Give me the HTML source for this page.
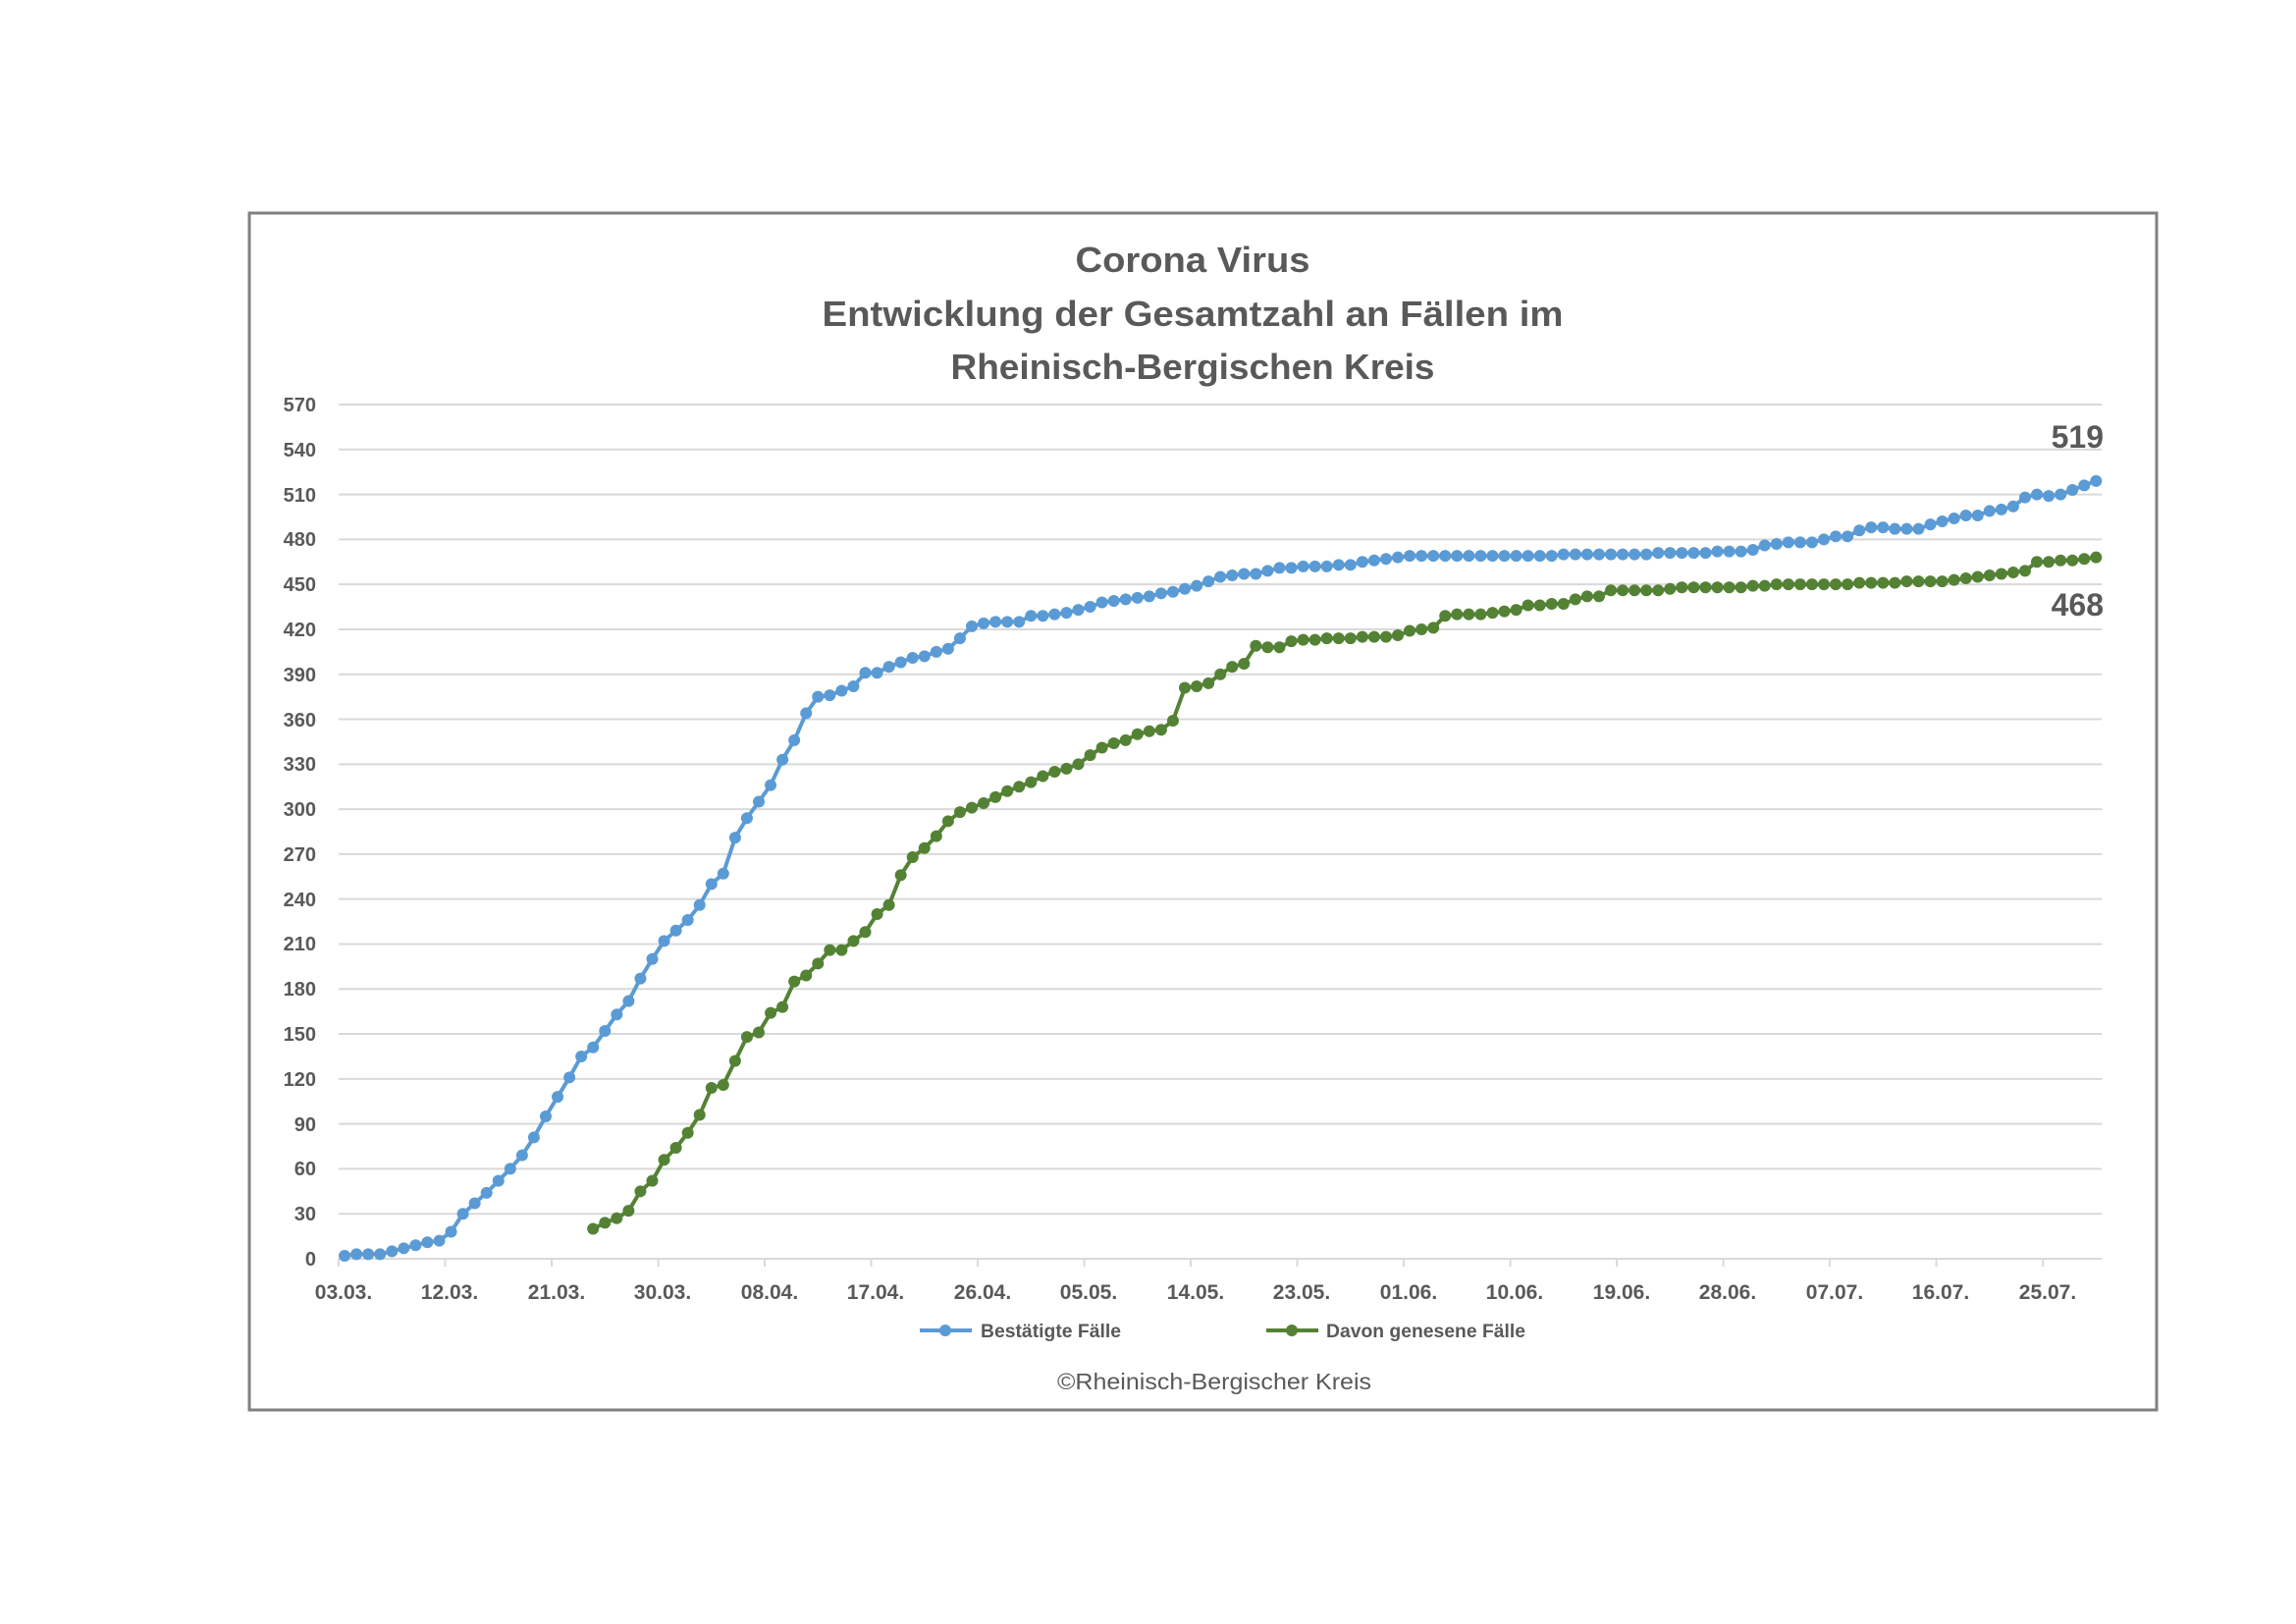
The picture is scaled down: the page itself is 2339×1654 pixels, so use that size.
<!DOCTYPE html>
<html><head><meta charset="utf-8"><style>
html,body{margin:0;padding:0;background:#fff;}
svg{display:block;}
text{font-family:"Liberation Sans",sans-serif;fill:#595959;}
</style></head><body>
<svg id="s" width="2339" height="1654" viewBox="0 0 2339 1654" xmlns="http://www.w3.org/2000/svg">
<rect x="0" y="0" width="2339" height="1654" fill="#fff"/>
<rect x="254" y="217" width="1943" height="1219" fill="none" stroke="#808080" stroke-width="3"/>
<g font-weight="bold" text-anchor="middle" font-size="36">
<text x="1215" y="277" textLength="239" lengthAdjust="spacingAndGlyphs">Corona Virus</text>
<text x="1215" y="332" textLength="755" lengthAdjust="spacingAndGlyphs">Entwicklung der Gesamtzahl an Fällen im</text>
<text x="1215" y="386" textLength="493" lengthAdjust="spacingAndGlyphs">Rheinisch-Bergischen Kreis</text>
</g>
<g id="grid"></g>
<g id="ylab" font-size="20" font-weight="bold" text-anchor="end">
<text x="322" y="419">570</text><text x="322" y="465">540</text><text x="322" y="511">510</text><text x="322" y="556">480</text><text x="322" y="602">450</text><text x="322" y="648">420</text><text x="322" y="694">390</text><text x="322" y="740">360</text><text x="322" y="785">330</text><text x="322" y="831">300</text><text x="322" y="877">270</text><text x="322" y="923">240</text><text x="322" y="968">210</text><text x="322" y="1014">180</text><text x="322" y="1060">150</text><text x="322" y="1106">120</text><text x="322" y="1152">90</text><text x="322" y="1197">60</text><text x="322" y="1243">30</text><text x="322" y="1289">0</text>
</g>
<g font-size="21" font-weight="bold" text-anchor="middle">
<text x="350" y="1323">03.03.</text><text x="458" y="1323">12.03.</text><text x="567" y="1323">21.03.</text><text x="675" y="1323">30.03.</text><text x="784" y="1323">08.04.</text><text x="892" y="1323">17.04.</text><text x="1001" y="1323">26.04.</text><text x="1109" y="1323">05.05.</text><text x="1218" y="1323">14.05.</text><text x="1326" y="1323">23.05.</text><text x="1435" y="1323">01.06.</text><text x="1543" y="1323">10.06.</text><text x="1652" y="1323">19.06.</text><text x="1760" y="1323">28.06.</text><text x="1869" y="1323">07.07.</text><text x="1977" y="1323">16.07.</text><text x="2086" y="1323">25.07.</text>
</g>
<g id="series"></g>
<g font-size="32" font-weight="bold" text-anchor="end">
<text x="2143" y="456">519</text>
<text x="2143" y="627">468</text>
</g>
<line x1="937" y1="1355" x2="990" y2="1355" stroke="#5b9bd5" stroke-width="4"/>
<circle cx="963" cy="1355" r="6" fill="#5b9bd5"/>
<text x="999" y="1362" font-size="19" font-weight="bold" textLength="143" lengthAdjust="spacingAndGlyphs">Bestätigte Fälle</text>
<line x1="1290" y1="1355" x2="1343" y2="1355" stroke="#548235" stroke-width="4"/>
<circle cx="1316" cy="1355" r="6" fill="#548235"/>
<text x="1351" y="1362" font-size="19" font-weight="bold" textLength="203" lengthAdjust="spacingAndGlyphs">Davon genesene Fälle</text>
<text x="1237" y="1415" font-size="23" text-anchor="middle" textLength="320" lengthAdjust="spacingAndGlyphs">©Rheinisch-Bergischer Kreis</text>
</svg>
<script>
var NS="http://www.w3.org/2000/svg";
var T0=345,DX=12.056,X0=T0+DX/2,Y0=1282,SY=870/570;
function X(d){return X0+DX*d;}function Y(v){return Y0-SY*v;}
var g=document.getElementById('grid');
function ln(x1,y1,x2,y2){var l=document.createElementNS(NS,'line');l.setAttribute('x1',x1);l.setAttribute('x2',x2);l.setAttribute('y1',y1);l.setAttribute('y2',y2);l.setAttribute('stroke','#d9d9d9');l.setAttribute('stroke-width','2');g.appendChild(l);}
for(var v=0;v<=570;v+=30)ln(T0,Y(v),T0+149*DX,Y(v));
for(var k=0;k<=149;k+=9){var x=T0+DX*k;ln(x,Y0,x,Y0+8);}
var blue=[2,3,3,3,5,7,9,11,12,18,30,37,44,52,60,69,81,95,108,121,135,141,152,163,172,187,200,212,219,226,236,250,257,281,294,305,316,333,346,364,375,376,379,382,391,391,395,398,401,402,405,407,414,422,424,425,425,425,429,429,430,431,433,435,438,439,440,441,442,444,445,447,449,452,455,456,457,457,459,461,461,462,462,462,463,463,465,466,467,468,469,469,469,469,469,469,469,469,469,469,469,469,469,470,470,470,470,470,470,470,470,471,471,471,471,471,472,472,472,473,476,477,478,478,478,480,482,482,486,488,488,487,487,487,490,492,494,496,496,499,500,502,508,510,509,510,513,516,519];
var gv=[20,24,27,32,45,52,66,74,84,96,114,116,132,148,151,164,168,185,189,197,206,206,212,218,230,236,256,268,274,282,292,298,301,304,308,312,315,318,322,325,327,330,336,341,344,346,350,352,353,359,381,382,384,390,395,397,409,408,408,412,413,413,414,414,414,415,415,415,416,419,420,421,429,430,430,430,431,432,433,436,436,437,437,440,442,442,446,446,446,446,446,447,448,448,448,448,448,448,449,449,450,450,450,450,450,450,450,451,451,451,451,452,452,452,452,453,454,455,456,457,458,459,465,465,466,466,467,468];
function draw(data,start,col){var s=document.getElementById('series');var pts=[];for(var i=0;i<data.length;i++)pts.push(X(start+i).toFixed(1)+','+Y(data[i]).toFixed(1));
var p=document.createElementNS(NS,'polyline');p.setAttribute('points',pts.join(' '));p.setAttribute('fill','none');p.setAttribute('stroke',col);p.setAttribute('stroke-width','4');p.setAttribute('stroke-linejoin','round');s.appendChild(p);
for(var i=0;i<data.length;i++){var c=document.createElementNS(NS,'circle');c.setAttribute('cx',X(start+i));c.setAttribute('cy',Y(data[i]));c.setAttribute('r','6');c.setAttribute('fill',col);s.appendChild(c);}}
draw(blue.slice(0,149),0,'#5b9bd5');
draw(gv,148-gv.length+1,'#548235');
</script>
</body></html>
